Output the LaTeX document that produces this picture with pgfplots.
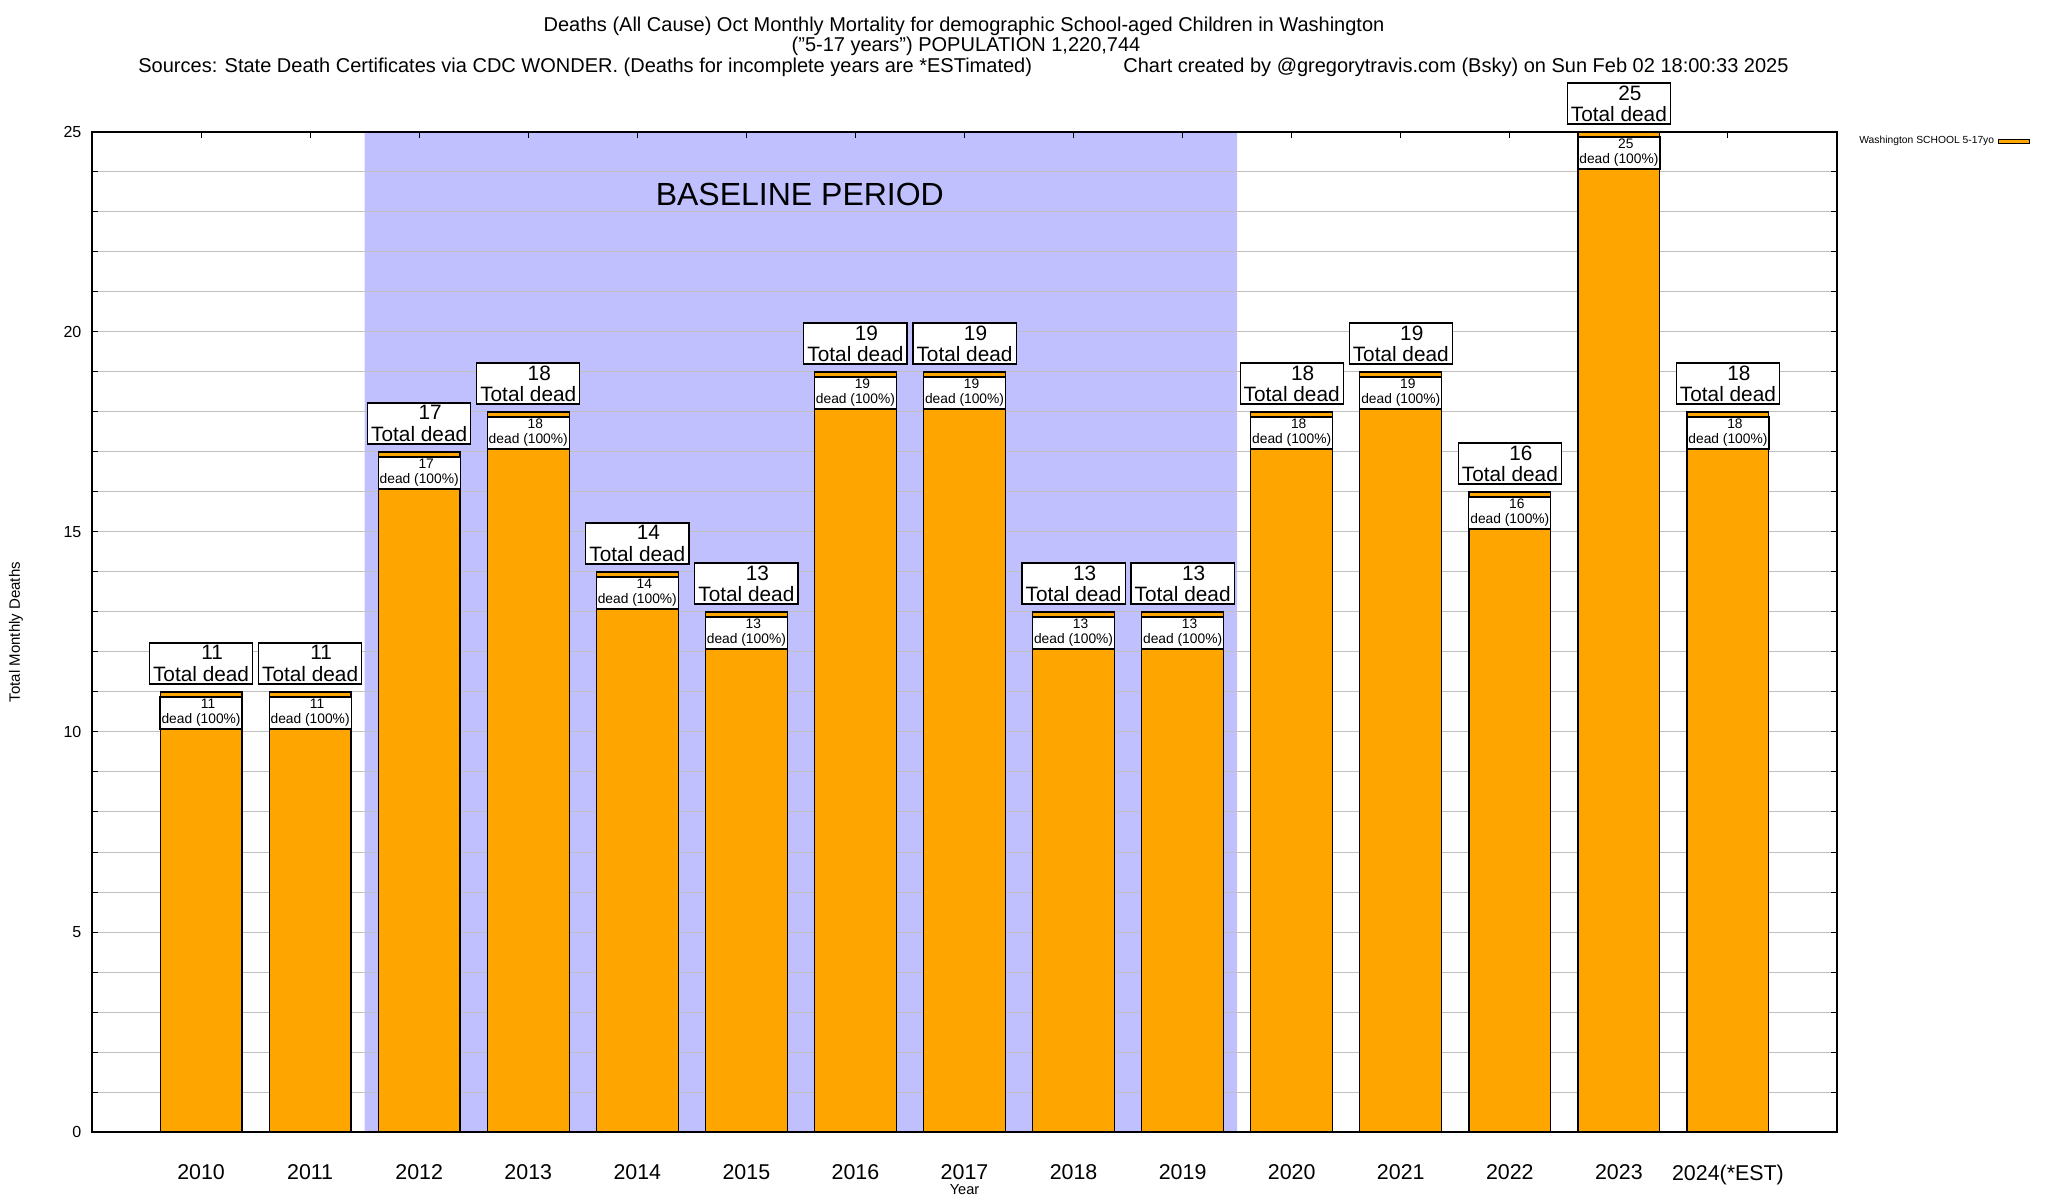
\documentclass[border=0pt]{standalone}
\usepackage{fontspec}
\setmainfont{Liberation Sans}
\usepackage{pgfplots}
\usepackage{pgfplotstable}
\pgfplotsset{compat=1.18}
\definecolor{barorange}{RGB}{255,165,0}
\definecolor{baseblue}{RGB}{192,192,255}
\definecolor{gridgray}{RGB}{192,192,192}

\pgfplotstableread{
x y
0 11
1 11
2 17
3 18
4 14
5 13
6 19
7 19
8 13
9 13
10 18
11 19
12 16
13 25
14 18
}\deathtable

\begin{document}
\begin{tikzpicture}
\path (0pt,0pt) rectangle (1024pt,600pt);
\begin{axis}[
  at={(46pt,34pt)}, anchor=south west,
  scale only axis, width=872.5pt, height=500pt,
  set layers,
  clip=false,
  xmin=-1, xmax=15, ymin=0, ymax=25,
  xtick={0,...,14},
  xticklabels={2010,2011,2012,2013,2014,2015,2016,2017,2018,2019,2020,2021,2022,2023,2024(*EST)},
  ytick={0,5,...,25},
  minor ytick={0,...,25},
  ymajorgrids, yminorgrids,
  major grid style={gridgray, line width=0.5pt},
  minor grid style={gridgray, line width=0.5pt},
  tick align=inside,
  major tick length=3pt, minor tick length=3pt,
  tick style={black, line width=0.5pt},
  axis line style={line width=0.8pt},
  /pgf/number format/assume math mode=true,
  xticklabel style={font=\fontsize{10.7}{12}\selectfont, yshift=-12.8pt},
  yticklabel style={font=\fontsize{8}{10}\selectfont, xshift=-1.8pt},
  xlabel={Year}, ylabel={Total Monthly Deaths},
  every axis x label/.style={at={(rel axis cs:0.5,-0.062)}, anchor=base, font=\fontsize{7.3}{9}\selectfont},
  every axis y label/.style={at={(rel axis cs:-0.04355,0.5)}, rotate=90, anchor=center, font=\fontsize{7.5}{9}\selectfont},
  legend plot pos=right,
  legend cell align=left,
  legend style={at={(rel axis cs:1.0103,1)}, anchor=north west, draw=none, fill=none,
    inner sep=0pt, font=\fontsize{5.15}{6}\selectfont,
    /tikz/every even column/.append style={column sep=4pt}},
]
\addplot[on layer=axis background, fill=baseblue, draw=none, forget plot] coordinates {(1.5,0) (1.5,25) (9.5,25) (9.5,0)} \closedcycle;

\addplot[ybar, bar width=0.75, bar shift=0pt, fill=barorange, draw=black, line width=0.6pt,
  nodes near coords={\hspace*{7pt}\pgfmathprintnumber{\pgfplotspointmeta}\\dead (100\%)},
  every node near coord/.style={anchor=center, yshift=-10.5pt, draw=black, fill=white,
    line width=0.6pt, minimum width=41pt, minimum height=16pt, inner xsep=0pt, inner ysep=0pt,
    align=center, font=\fontsize{6.9}{7.4}\selectfont},
  legend image code/.code={\draw[fill=barorange,draw=black,line width=0.5pt] (0pt,-0.85pt) rectangle (15.5pt,0.85pt);}
] table {\deathtable};
\addlegendentry{Washington SCHOOL 5-17yo}

\addplot[draw=none, mark=none, forget plot,
  nodes near coords={\hspace*{11pt}\pgfmathprintnumber{\pgfplotspointmeta}\\Total dead},
  every node near coord/.style={anchor=center, yshift=14.25pt, draw=black, fill=white,
    line width=0.6pt, inner xsep=1.8pt, inner ysep=1.3pt,
    align=center, font=\fontsize{10.4}{10.6}\selectfont}
] table {\deathtable};

\node[font=\fontsize{16}{18}\selectfont] at (axis cs:5.49,23.43) {BASELINE PERIOD};
\end{axis}
\node[anchor=base, font=\fontsize{10}{12}\selectfont] at (482pt,584pt) {Deaths (All Cause) Oct Monthly Mortality for demographic School-aged Children in Washington};
\node[anchor=base, font=\fontsize{10}{12}\selectfont] at (483pt,574pt) {("5-17 years") POPULATION 1,220,744};
\node[anchor=base west, inner sep=0pt, font=\fontsize{10}{12}\selectfont] at (69pt,563.5pt) {Sources: State Death Certificates via CDC WONDER. (Deaths for incomplete years are *ESTimated)};
\node[anchor=base west, inner sep=0pt, font=\fontsize{10}{12}\selectfont] at (561.5pt,563.5pt) {Chart created by @gregorytravis.com (Bsky) on Sun Feb 02 18:00:33 2025};
\end{tikzpicture}
\end{document}
